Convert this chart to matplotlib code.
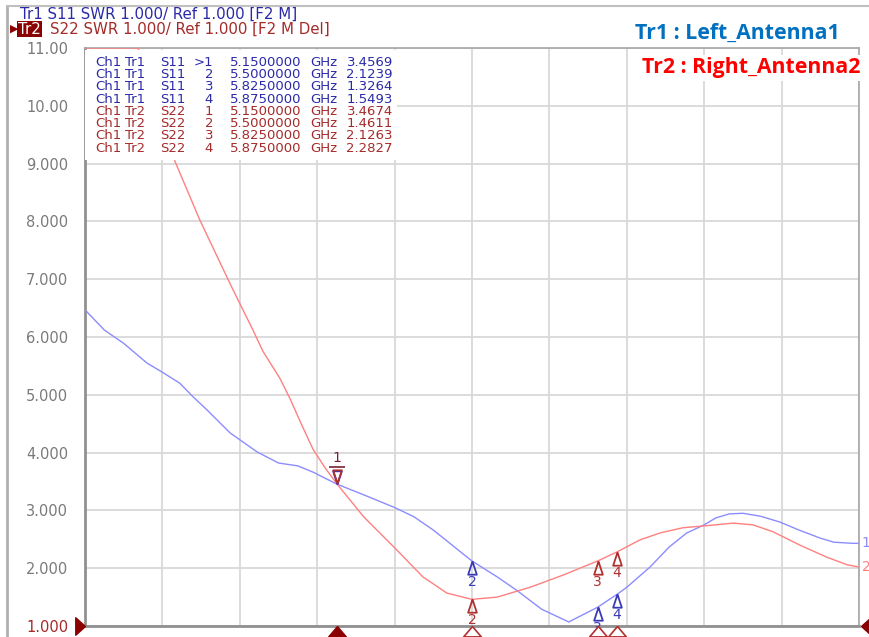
import numpy as np
import matplotlib
matplotlib.use("Agg")
import matplotlib.pyplot as plt
from matplotlib.path import Path
from matplotlib.lines import Line2D
from matplotlib.patches import Rectangle
import matplotlib.transforms as mtransforms

# --- data (GHz, SWR) ---
freq_tr1 = [4.50, 4.55, 4.60, 4.66, 4.70, 4.745, 4.78, 4.815, 4.875, 4.945,
            5.00, 5.05, 5.09, 5.15, 5.22, 5.30, 5.35, 5.40, 5.50, 5.565,
            5.615, 5.68, 5.75, 5.825, 5.875, 5.90, 5.96, 6.01, 6.055, 6.10,
            6.13, 6.165, 6.20, 6.245, 6.295, 6.345, 6.40, 6.435, 6.485, 6.50]
swr_tr1 = [6.47, 6.12, 5.89, 5.55, 5.39, 5.20, 4.96, 4.74, 4.34, 4.01,
           3.82, 3.77, 3.66, 3.457, 3.27, 3.05, 2.89, 2.66, 2.124, 1.85,
           1.62, 1.29, 1.07, 1.326, 1.549, 1.67, 2.02, 2.37, 2.61, 2.75,
           2.87, 2.94, 2.95, 2.90, 2.80, 2.66, 2.52, 2.45, 2.43, 2.43]

freq_tr2 = [4.50, 4.637, 4.733, 4.797, 4.875, 4.90, 4.934, 4.96, 5.004, 5.03,
            5.06, 5.089, 5.12, 5.15, 5.22, 5.305, 5.373, 5.435, 5.50, 5.565,
            5.65, 5.735, 5.825, 5.875, 5.934, 5.986, 6.045, 6.097, 6.175, 6.226,
            6.278, 6.347, 6.417, 6.469, 6.50]
swr_tr2 = [13.6, 11.0, 9.03, 8.02, 6.92, 6.58, 6.12, 5.75, 5.28, 4.93,
           4.48, 4.06, 3.74, 3.467, 2.89, 2.32, 1.85, 1.57, 1.461, 1.50,
           1.67, 1.88, 2.126, 2.283, 2.49, 2.61, 2.70, 2.73, 2.78, 2.75,
           2.63, 2.40, 2.19, 2.06, 2.02]

marker_ids = ["1", "2", "3", "4"]
marker_freq = [5.15, 5.50, 5.825, 5.875]
marker_tr1 = [3.4569, 2.1239, 1.3264, 1.5493]
marker_tr2 = [3.4674, 1.4611, 2.1263, 2.2827]

y_ticks = [1, 2, 3, 4, 5, 6, 7, 8, 9, 10, 11]
y_tick_labels = ["1.000", "2.000", "3.000", "4.000", "5.000", "6.000",
                 "7.000", "8.000", "9.000", "10.00", "11.00"]

x_min, x_max = 4.5, 6.5
y_min, y_max = 1.0, 11.0

# colours
BLUE_LINE = "#8c8cff"
RED_LINE = "#ff8080"
BLUE_TXT = "#2a2aa8"
RED_TXT = "#a52a2a"
DARK_RED = "#8b0000"
GRID = "#d9d9d9"

fig = plt.figure(figsize=(8.69, 6.37), dpi=100)
ax = fig.add_axes([85 / 869, 11 / 637, 774 / 869, 578 / 637])

ax.plot(freq_tr1, swr_tr1, color=BLUE_LINE, lw=1.0, zorder=3)
ax.plot(freq_tr2, np.clip(swr_tr2, y_min, y_max), color=RED_LINE, lw=1.0, zorder=3)

ax.set_xlim(x_min, x_max)
ax.set_ylim(y_min, y_max)
ax.set_xticks(np.linspace(x_min, x_max, 11))
ax.set_yticks(y_ticks)
ax.set_xticklabels([])
ax.set_yticklabels(y_tick_labels, fontsize=10.5, color="#7a7a7a")
ax.get_yticklabels()[0].set_color(RED_TXT)
ax.tick_params(length=0, pad=12)
ax.grid(True, color=GRID, lw=1.3)
ax.set_axisbelow(True)
for side, sp in ax.spines.items():
    sp.set_color("#a6a6a6")
    sp.set_linewidth(1.2)
ax.spines["left"].set_color("#909090")
ax.spines["left"].set_linewidth(2)
ax.spines["bottom"].set_color("#909090")
ax.spines["bottom"].set_linewidth(2)

# marker shapes: apex sits on the data point
tri_up = Path([(0, 0), (-0.33, -1), (0.33, -1), (0, 0)])
tri_down = Path([(0, 0), (-0.33, 1), (0.33, 1), (0, 0)])
wide_up = Path([(0, 0), (-0.85, -1), (0.85, -1), (0, 0)])
tri_right = Path([(0, 0), (-1, -0.9), (-1, 0.9), (0, 0)])
tri_left = Path([(0, 0), (1, -0.9), (1, 0.9), (0, 0)])
bar = Path([(-0.45, 0), (0.45, 0)])

for traces in [(marker_tr1, "#3a3ab8"), (marker_tr2, "#b03030")]:
    vals, col = traces
    for i, (f, v) in enumerate(zip(marker_freq, vals)):
        if i == 0:
            ax.plot(f, v, marker=tri_down, ms=19, mfc="none", mec=col, mew=1.3,
                    zorder=5, clip_on=False)
        else:
            ax.plot(f, v, marker=tri_up, ms=19, mfc="none", mec=col, mew=1.3,
                    zorder=5, clip_on=False)
            ax.annotate(marker_ids[i], (f, v), xytext=(0, -15),
                        textcoords="offset points", ha="center", va="center",
                        fontsize=10, color=col, zorder=6, annotation_clip=False)

# active marker 1 label (both traces share it) with its underline
ax.annotate("1", (marker_freq[0], marker_tr2[0]), xytext=(0, 18),
            textcoords="offset points", ha="center", va="center",
            fontsize=10, color="#7a1f3a", zorder=6)
bar_trans = mtransforms.offset_copy(ax.transData, fig=fig, x=0, y=12,
                                    units="points")
ax.plot(marker_freq[0], marker_tr2[0], marker=bar, ms=12, mec="#7a1f3a",
        mew=1.2, transform=bar_trans, zorder=6, clip_on=False)

# stimulus markers under the x axis
trans_x = mtransforms.blended_transform_factory(ax.transData, ax.transAxes)
ax.plot(marker_freq[0], 0, marker=wide_up, ms=15, color=DARK_RED,
        transform=trans_x, clip_on=False, zorder=6)
ax.plot(marker_freq[1:], [0, 0, 0], ls="none", marker=wide_up, ms=15,
        mfc="white", mec="#b03030", mew=1.2, transform=trans_x,
        clip_on=False, zorder=6)

# reference level markers at left and right
trans_y = mtransforms.blended_transform_factory(ax.transAxes, ax.transData)
ax.plot(0, 1.0, marker=tri_right, ms=14, color=DARK_RED, transform=trans_y,
        clip_on=False, zorder=6)
ax.plot(1.003, 1.0, marker=tri_left, ms=14, color=DARK_RED, transform=trans_y,
        clip_on=False, zorder=6)

# trace labels at the right edge
ax.annotate("1", (1, swr_tr1[-1]), xycoords=trans_y, xytext=(2, 0),
            textcoords="offset points", va="center", fontsize=10, color=BLUE_LINE)
ax.annotate("2", (1, swr_tr2[-1]), xycoords=trans_y, xytext=(2, 0),
            textcoords="offset points", va="center", fontsize=10, color=RED_LINE)

# marker readout table (top left)
ax.add_patch(Rectangle((0, 0.806), 0.403, 0.191, transform=ax.transAxes,
                       facecolor="white", edgecolor="none", zorder=7))
rows = [("Tr1", "S11", marker_tr1, BLUE_TXT), ("Tr2", "S22", marker_tr2, RED_TXT)]
row_y = 0.975
for tr, par, vals, col in rows:
    for i in range(4):
        mid = (">" if (tr == "Tr1" and i == 0) else "") + marker_ids[i]
        kw = dict(transform=ax.transAxes, fontsize=9.5, color=col,
                  va="center", zorder=8)
        ax.text(0.0129, row_y, "Ch1", ha="left", **kw)
        ax.text(0.0517, row_y, tr, ha="left", **kw)
        ax.text(0.0969, row_y, par, ha="left", **kw)
        ax.text(0.1654, row_y, mid, ha="right", **kw)
        ax.text(0.1873, row_y, f"{marker_freq[i]:.7f}", ha="left", **kw)
        ax.text(0.2907, row_y, "GHz", ha="left", **kw)
        ax.text(0.3979, row_y, f"{vals[i]:.4f}", ha="right", **kw)
        row_y -= 0.0212

# header lines
fig.text(20 / 869, 1 - 14 / 637, "Tr1 S11 SWR 1.000/ Ref 1.000 [F2 M]",
         fontsize=10.8, color=BLUE_TXT, va="center", ha="left")
fig.text(18 / 869, 1 - 29 / 637, "Tr2", fontsize=10.8, color="white",
         va="center", ha="left",
         bbox=dict(boxstyle="square,pad=0.05", fc=DARK_RED, ec="none"))
fig.text(50 / 869, 1 - 29 / 637, "S22 SWR 1.000/ Ref 1.000 [F2 M Del]",
         fontsize=10.8, color=RED_TXT, va="center", ha="left")
fig.text(10 / 869, 1 - 29 / 637, "\u25B6", fontsize=8, color=DARK_RED,
         va="center", ha="left")

# window frame
fig.add_artist(Line2D([7 / 869, 7 / 869], [0, 1 - 6 / 637], color="#b0b0b0", lw=2))
fig.add_artist(Line2D([7 / 869, 1], [1 - 6 / 637, 1 - 6 / 637], color="#c0c0c0", lw=1.5))

# antenna legend
fig.text(840 / 869, 1 - 33 / 637, "Tr1 : Left_Antenna1", fontsize=15.3,
         fontweight="bold", family=["Open Sans", "DejaVu Sans"], color="#0070c0",
         ha="right", va="center")
fig.text(860 / 869, 1 - 68 / 637, "Tr2 : Right_Antenna2", fontsize=15.3,
         fontweight="bold", family=["Open Sans", "DejaVu Sans"], color="#ff0000",
         ha="right", va="center",
         bbox=dict(boxstyle="square,pad=0.1", fc="white", ec="none"))

fig.savefig("out.png", dpi=100)
